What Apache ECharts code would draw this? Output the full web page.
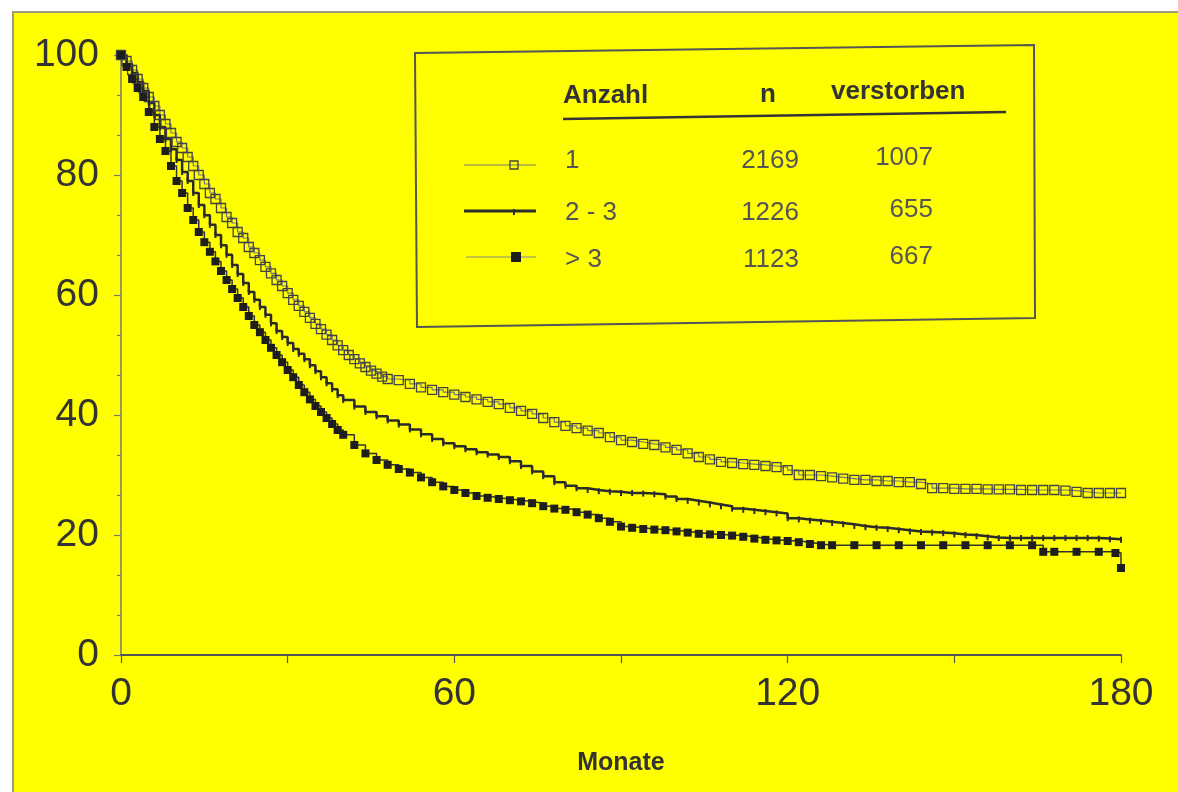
<!DOCTYPE html>
<html>
<head>
<meta charset="utf-8">
<script src="https://cdn.jsdelivr.net/npm/echarts@6/dist/echarts.min.js"></script>
<style>
html, body { margin: 0; padding: 0; background: #fff; }
#paper { position: absolute; left: 12px; top: 11px; width: 1166px; height: 781px; background: #ffff00; border-left: 2px solid #9c9c80; border-top: 2px solid #9c9c80; }
#chart { position: absolute; left: 0; top: 0; width: 1178px; height: 792px; }
</style>
</head>
<body>
<div id="paper"></div>
<div id="chart"></div>
<script>
// Ueberleben nach Anzahl (Monate / Prozent)
var monthsTop = [0,1,2,3,4,5,6,7,8,9,10,11,12,13,14,15,16,17,18,19,20,21,22,23,24,25,26,27,28,29,30,31,32,33,34,35,36,37,38,39,40,41,42,43,44,45,46,47,48,50,52,54,56,58,60,62,64,66,68,70,72,74,76,78,80,82,84,86,88,90,92,94,96,98,100,102,104,106,108,110,112,114,116,118,120,122,124,126,128,130,132,134,136,138,140,142,144,146,148,150,152,154,156,158,160,162,164,166,168,170,172,174,176,178,180];
var survTop = [100,99,97.5,96,94.5,93,91.5,90,88.5,87,85.5,84.5,83,81.5,80,78.5,77,76,74.5,73,72,70.5,69.5,68,67,65.8,64.7,63.6,62.5,61.5,60.3,59.2,58.2,57.2,56.2,55.2,54.3,53.4,52.5,51.6,50.8,50,49.3,48.6,48,47.4,46.9,46.4,46,45.8,45.2,44.6,44.2,43.8,43.4,43,42.6,42.2,41.8,41.2,40.7,40.2,39.5,38.8,38.2,37.8,37.4,37,36.3,35.8,35.5,35.2,35,34.6,34.2,33.6,33,32.6,32.2,32,31.8,31.7,31.5,31.3,30.8,30,30,29.8,29.6,29.4,29.2,29.2,29,29,28.8,28.8,28.5,27.8,27.8,27.7,27.7,27.7,27.6,27.6,27.6,27.5,27.5,27.5,27.5,27.4,27.2,27,27,27,27];

var monthsMid = [0,1,2,3,4,5,6,7,8,9,10,11,12,13,14,15,16,17,18,19,20,21,22,23,24,25,26,27,28,29,30,31,32,33,34,35,36,37,38,39,40,42,44,46,48,50,52,54,56,58,60,62,64,66,68,70,72,74,76,78,80,82,84,86,88,90,92,94,96,98,100,102,104,106,108,110,112,114,116,118,120,122,124,126,128,130,132,134,136,138,140,142,144,146,148,150,152,154,156,158,160,162,164,166,168,170,172,174,176,178,180];
var survMid = [100,98.5,97,95.5,94,92,90,88,86,84.3,82.5,80.5,79,77,75,73.3,71.7,70,68.3,66.7,65,63.5,62,60.5,59.2,58,56.7,55.3,54,53,52,51,50.2,49.3,48.3,47.3,46.3,45.3,44.3,43.3,42.5,41.4,40.5,39.8,39.1,38.4,37.6,36.8,36,35.3,34.8,34.3,33.8,33.4,33,32.3,31.5,30.6,29.8,28.8,28.2,27.8,27.5,27.3,27.2,27,27,26.9,26.8,26.4,26,25.7,25.4,25.1,24.8,24.4,24.2,24,23.8,23.6,22.8,22.6,22.4,22.2,22,21.8,21.5,21.3,21.2,21,20.8,20.6,20.5,20.4,20.3,20.1,20,19.8,19.6,19.5,19.5,19.5,19.5,19.5,19.5,19.5,19.5,19.5,19.4,19.3,19.2];

var monthsLow = [0,1,2,3,4,5,6,7,8,9,10,11,12,13,14,15,16,17,18,19,20,21,22,23,24,25,26,27,28,29,30,31,32,33,34,35,36,37,38,39,40,42,44,46,48,50,52,54,56,58,60,62,64,66,68,70,72,74,76,78,80,82,84,86,88,90,92,94,96,98,100,102,104,106,108,110,112,114,116,118,120,122,124,126,128,132,136,140,144,148,152,156,160,164,166,168,172,176,179,180];
var survLow = [100,98,96,94.5,93,90.5,88,86,84,81.5,79,77,74.5,72.5,70.5,68.8,67.2,65.6,64,62.5,61,59.5,58,56.5,55,53.8,52.5,51.2,50,48.8,47.5,46.3,45,43.8,42.6,41.5,40.5,39.5,38.5,37.5,36.7,35,33.6,32.5,31.7,31,30.4,29.6,28.8,28.1,27.5,27,26.5,26.2,26,25.8,25.6,25.3,24.8,24.4,24.2,23.8,23.4,22.8,22.2,21.4,21.2,21,20.9,20.8,20.6,20.4,20.2,20.1,20,19.9,19.7,19.4,19.2,19.1,19,18.8,18.5,18.3,18.3,18.3,18.3,18.3,18.3,18.3,18.3,18.3,18.3,18.3,17.2,17.2,17.2,17.2,17,14.5];

var xTicks = [0, 60, 120, 180];
var yTicks = [0, 20, 40, 60, 80, 100];

// Tabelle in der Legende
var groupLabels = ['1', '2 - 3', '> 3'];
var nCounts = [2169, 1226, 1123];
var deaths = [1007, 655, 667];

var font = "'Liberation Sans', Arial, sans-serif";

function pairs(xs, ys) {
    return xs.map(function (x, i) { return [x, ys[i]]; });
}

var myChart = echarts.init(document.getElementById('chart'));

// Legende als Tabelle
var rowY = [161, 213, 260];
var legendItems = [
    { type: 'polygon', shape: { points: [[415, 53], [1034, 45], [1035, 318], [417, 327]] },
      style: { fill: 'none', stroke: '#555', lineWidth: 2 } },
    { type: 'line', shape: { x1: 563, y1: 119, x2: 1006, y2: 112 }, style: { stroke: '#333', lineWidth: 2.5 } },
    { type: 'text', x: 563, y: 96, style: { text: 'Anzahl', font: 'bold 26px ' + font, fill: '#333', textVerticalAlign: 'middle' } },
    { type: 'text', x: 768, y: 95, style: { text: 'n', font: 'bold 26px ' + font, fill: '#333', textAlign: 'center', textVerticalAlign: 'middle' } },
    { type: 'text', x: 831, y: 92, style: { text: 'verstorben', font: 'bold 26px ' + font, fill: '#333', textVerticalAlign: 'middle' } },
    // Linienmuster
    { type: 'line', shape: { x1: 464, y1: 165, x2: 536, y2: 165 }, style: { stroke: '#777', lineWidth: 1.2 } },
    { type: 'rect', shape: { x: 510, y: 161, width: 8, height: 8 }, style: { fill: 'none', stroke: '#444', lineWidth: 1.3 } },
    { type: 'line', shape: { x1: 464, y1: 211, x2: 536, y2: 211 }, style: { stroke: '#2b2b2b', lineWidth: 3 } },
    { type: 'rect', shape: { x: 513, y: 209, width: 2, height: 6 }, style: { fill: '#2b2b2b' } },
    { type: 'line', shape: { x1: 466, y1: 257, x2: 536, y2: 257 }, style: { stroke: '#888', lineWidth: 1.2 } },
    { type: 'rect', shape: { x: 511, y: 252, width: 10, height: 10 }, style: { fill: '#1e1e1e' } }
];
groupLabels.forEach(function (g, i) {
    legendItems.push({ type: 'text', x: 565, y: rowY[i], style: { text: g, font: '26px ' + font, fill: '#555', textVerticalAlign: 'middle' } });
    legendItems.push({ type: 'text', x: 799, y: rowY[i], style: { text: String(nCounts[i]), font: '26px ' + font, fill: '#555', textAlign: 'right', textVerticalAlign: 'middle' } });
    legendItems.push({ type: 'text', x: 933, y: rowY[i] - 3, style: { text: String(deaths[i]), font: '26px ' + font, fill: '#555', textAlign: 'right', textVerticalAlign: 'middle' } });
});

var option = {
    backgroundColor: 'transparent',
    animation: false,
    grid: { left: 121, right: 57, top: 55, bottom: 137 },
    xAxis: {
        type: 'value', min: 0, max: 180, interval: 60,
        name: 'Monate', nameLocation: 'middle', nameGap: 96,
        nameTextStyle: { fontFamily: font, fontSize: 25, fontWeight: 'bold', color: '#333' },
        axisLine: { show: true, lineStyle: { color: '#555', width: 2 } },
        axisTick: { show: true, length: 8, lineStyle: { color: '#555', width: 1.2 } },
        minorTick: { show: true, splitNumber: 2, length: 8, lineStyle: { color: '#555', width: 1.2 } },
        splitLine: { show: false },
        axisLabel: {
            fontFamily: font, fontSize: 39, color: '#333', margin: 20,
            formatter: function (v) { return xTicks.indexOf(v) >= 0 ? String(v) : ''; }
        }
    },
    yAxis: {
        type: 'value', min: 0, max: 100, interval: 20,
        axisLine: { show: true, lineStyle: { color: '#777', width: 1.5 } },
        axisTick: { show: true, length: 7, lineStyle: { color: '#777', width: 1.2 } },
        minorTick: { show: true, splitNumber: 3, length: 4, lineStyle: { color: '#777', width: 1.2 } },
        splitLine: { show: false },
        axisLabel: {
            fontFamily: font, fontSize: 39, color: '#333', margin: 22,
            formatter: function (v) { return yTicks.indexOf(v) >= 0 ? String(v) : ''; }
        }
    },
    graphic: legendItems,
    series: [
        {
            name: '1', type: 'line', step: 'end', data: pairs(monthsTop, survTop),
            symbol: 'rect', symbolSize: 9, showAllSymbol: true,
            lineStyle: { color: '#777', width: 1.2 },
            itemStyle: { color: 'rgba(255,255,0,0)', borderColor: '#444', borderWidth: 1.3 }
        },
        {
            name: '2 - 3', type: 'line', step: 'end', data: pairs(monthsMid, survMid),
            symbol: 'rect', symbolSize: [2, 6], showAllSymbol: true,
            lineStyle: { color: '#2b2b2b', width: 2.5 },
            itemStyle: { color: '#2b2b2b', borderWidth: 0 }
        },
        {
            name: '> 3', type: 'line', step: 'end', data: pairs(monthsLow, survLow),
            symbol: 'rect', symbolSize: 8, showAllSymbol: true,
            lineStyle: { color: '#333', width: 1.5 },
            itemStyle: { color: '#1e1e1e', borderWidth: 0 }
        }
    ]
};

myChart.setOption(option);
</script>
</body>
</html>
